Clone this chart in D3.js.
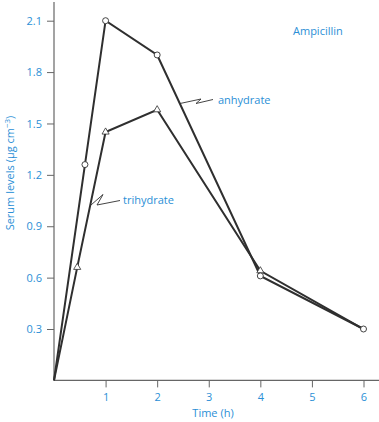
<!DOCTYPE html>
<html><head><meta charset="utf-8">
<script src="https://cdn.jsdelivr.net/npm/d3@7"></script>
<style>body{margin:0;background:#fff}text{font-family:"Open Sans",sans-serif}</style>
</head><body><svg id="c" width="379" height="422"></svg>
<script>
const xTicks = [1,2,3,4,5,6];
const yTicks = [0.3,0.6,0.9,1.2,1.5,1.8,2.1];
const anhydrateTime = [0,0.6,1,2,4,6];
const anhydrateLevel = [0,1.26,2.1,1.9,0.61,0.3];
const trihydrateTime = [0,0.45,1,2,4,6];
const trihydrateLevel = [0,0.66,1.45,1.58,0.64,0.3];

const blue = "#2b8fd6", ink = "#2f2f2f", axisC = "#666";
const svg = d3.select("#c");
const x = d3.scaleLinear().domain([0,6]).range([54,363.5]);
const y = d3.scaleLinear().domain([0,2.1]).range([380.4,20.7]);

// axes
svg.append("line").attr("x1",x(0)).attr("x2",379).attr("y1",y(0)).attr("y2",y(0)).attr("stroke",axisC).attr("stroke-width",1.2);
svg.append("line").attr("x1",x(0)).attr("x2",x(0)).attr("y1",2).attr("y2",y(0)).attr("stroke",axisC).attr("stroke-width",1.2);
const xa = svg.append("g").attr("transform",`translate(0,${y(0)})`)
  .call(d3.axisBottom(x).tickValues(xTicks).tickFormat(d3.format("d")).tickSize(7).tickPadding(6));
const ya = svg.append("g").attr("transform",`translate(${x(0)},0)`)
  .call(d3.axisLeft(y).tickValues(yTicks).tickFormat(d3.format(".1f")).tickSize(7).tickPadding(5));
[xa,ya].forEach(a=>{
  a.select(".domain").remove();
  a.selectAll(".tick line").attr("stroke",axisC);
  a.selectAll(".tick text").attr("fill",blue).style("font-size","11px").style("font-family","'Open Sans',sans-serif");
});

svg.append("text").attr("x",213).attr("y",417).attr("text-anchor","middle").attr("fill",blue).style("font-size","11px").text("Time (h)");
const yl = svg.append("text").attr("transform","translate(14,173) rotate(-90)").attr("text-anchor","middle").attr("fill",blue).style("font-size","11px");
yl.append("tspan").text("Serum levels (μg cm");
yl.append("tspan").attr("dy",-4).style("font-size","8px").text("−3");
yl.append("tspan").attr("dy",4).text(")");
svg.append("text").attr("x",293).attr("y",35).attr("fill",blue).style("font-size","11px").text("Ampicillin");

const line = d3.line().x(d=>x(d[0])).y(d=>y(d[1]));
const an = anhydrateTime.map((t,i)=>[t,anhydrateLevel[i]]);
const tr = trihydrateTime.map((t,i)=>[t,trihydrateLevel[i]]);
svg.append("path").datum(tr).attr("d",line).attr("fill","none").attr("stroke",ink).attr("stroke-width",2);
svg.append("path").datum(an).attr("d",line).attr("fill","none").attr("stroke",ink).attr("stroke-width",2);

// markers
svg.selectAll(".tri").data(tr.slice(1,5)).enter().append("path")
  .attr("transform",d=>`translate(${x(d[0])},${y(d[1])})`)
  .attr("d",d3.symbol().type(d3.symbolTriangle).size(22))
  .attr("fill","#fff").attr("stroke",ink).attr("stroke-width",0.8);
svg.selectAll(".circ").data(an.slice(1)).enter().append("circle")
  .attr("cx",d=>x(d[0])).attr("cy",d=>y(d[1])).attr("r",3)
  .attr("fill","#fff").attr("stroke",ink).attr("stroke-width",0.9);

// leaders and labels
svg.append("polyline").attr("points","180,103.5 201,99 196,103.5 213,99.5").attr("fill","none").attr("stroke",ink).attr("stroke-width",0.9);
svg.append("text").attr("x",218).attr("y",104).attr("fill",blue).style("font-size","11px").text("anhydrate");
svg.append("polyline").attr("points","91,205 103,194.5 97,205 120,200.5").attr("fill","none").attr("stroke",ink).attr("stroke-width",0.9);
svg.append("text").attr("x",123).attr("y",204).attr("fill",blue).style("font-size","11px").text("trihydrate");
</script></body></html>
